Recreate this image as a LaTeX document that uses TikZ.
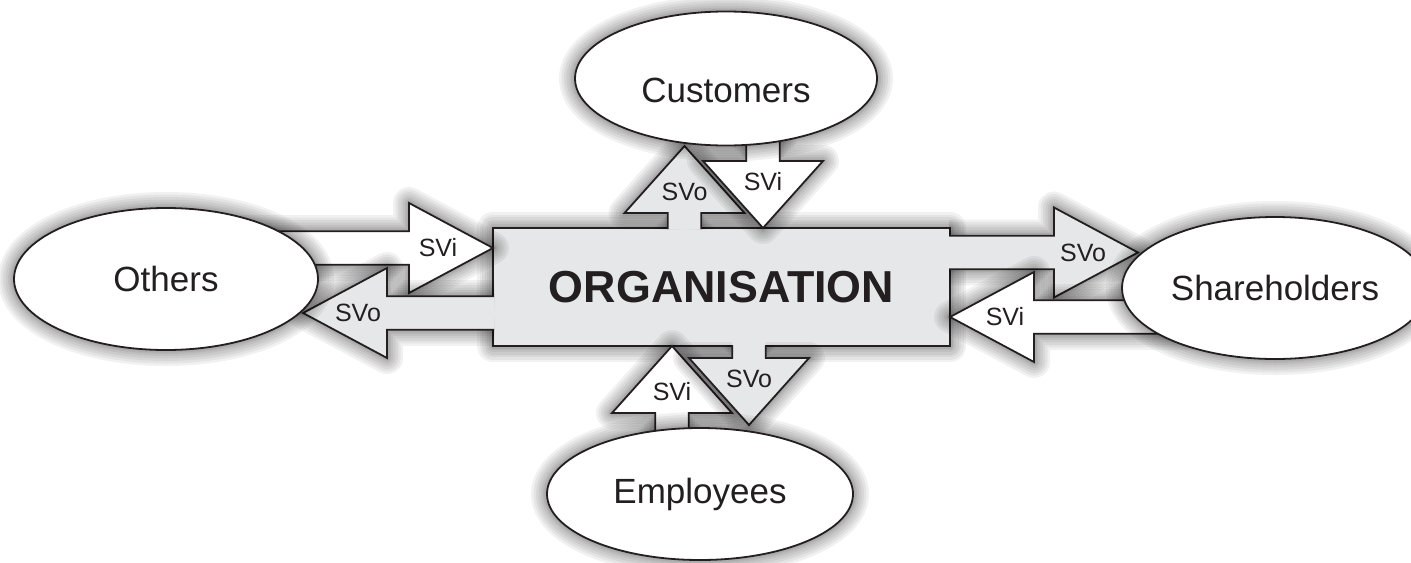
\documentclass[tikz,border=0pt]{standalone}
\usepackage{fontspec}
\setmainfont{Liberation Sans}
\usetikzlibrary{calc,shapes.geometric}

\definecolor{orggray}{RGB}{230,231,232}
\definecolor{ink}{RGB}{35,31,32}

% half width of every shaft (pt)
\def\shafthalf{8.4}

% block arrow from #2 to its tip #3, label node #4 with text #5
\newcommand\valuearrow[5]{%
  \filldraw[#1] let \p1=(#2), \p2=(#3),
      \n1={veclen(\x2-\x1,\y2-\y1)}, \n2={(\x2-\x1)/\n1}, \n3={(\y2-\y1)/\n1},
      \p3=({\x2-\headlen*\n2},{\y2-\headlen*\n3}) in
    ({\x1-\shafthalf*\n3},{\y1+\shafthalf*\n2}) -- ({\x3-\shafthalf*\n3},{\y3+\shafthalf*\n2})
    -- ({\x3-\headhalf*\n3},{\y3+\headhalf*\n2}) -- (\p2)
    -- ({\x3+\headhalf*\n3},{\y3-\headhalf*\n2}) -- ({\x3+\shafthalf*\n3},{\y3-\shafthalf*\n2})
    -- ({\x1+\shafthalf*\n3},{\y1-\shafthalf*\n2});
  \node[tag] (#4) at ($(#3)!\tagdist!(#2)$) {#5};
}

\tikzset{
  halo/.style={draw=black,fill=none,draw opacity=0.055,line join=round,line cap=butt,line width=#1},
  soft/.style={preaction={halo=16pt},preaction={halo=13.5pt},preaction={halo=11pt},
    preaction={halo=8.5pt},preaction={halo=6pt},preaction={halo=4pt},preaction={halo=2.5pt}},
  org/.style={draw=ink,line width=0.9pt,fill=orggray,soft,minimum width=228.5pt,minimum height=59pt,
    inner sep=0pt,outer sep=0pt,text=ink,font=\fontsize{22.4}{26}\selectfont\bfseries},
  oval/.style={ellipse,draw=ink,line width=0.9pt,fill=white,soft,inner sep=0pt,outer sep=0pt,
    text=ink,font=\fontsize{17.5}{20}\selectfont},
  ovaltext/.style={inner sep=0pt,text=ink,font=\fontsize{17.5}{20}\selectfont},
  svo/.style={draw=ink,line width=0.9pt,fill=orggray,line join=miter,soft},
  svi/.style={draw=ink,line width=0.9pt,fill=white,line join=miter,soft},
  tag/.style={inner sep=0pt,text=ink,font=\fontsize{12.5}{14}\selectfont}
}

\begin{document}
\begin{tikzpicture}[x=0.5pt,y=0.5pt,yscale=-1]
\useasboundingbox (0,0) rectangle (1411,562);

% Shape: Rectangle
\node[org] (org) at (721.5,287) {ORGANISATION};

% free ends of the arrows
\coordinate (oth-in) at (240,248);
\coordinate (oth-out) at (303,313);
\coordinate (sha-out) at (1138,252.5);
\coordinate (sha-in) at (1200,317);
\coordinate (cus-out) at (684.5,146);
\coordinate (cus-in) at (763,110);
\coordinate (emp-in) at (672,480);
\coordinate (emp-out) at (749,425);

% ends on the organisation
\coordinate (org-oi) at (org.west |- oth-in);
\coordinate (org-oo) at ($(org.west |- oth-out)+(1,0)$);
\coordinate (org-so) at ($(org.east |- sha-out)+(-1,0)$);
\coordinate (org-si) at (org.east |- sha-in);
\coordinate (org-co) at ($(org.north -| cus-out)+(0,1)$);
\coordinate (org-ci) at (org.north -| cus-in);
\coordinate (org-ei) at (org.south -| emp-in);
\coordinate (org-eo) at ($(org.south -| emp-out)+(0,-1)$);

% Block arrows: sideways
\def\headlen{42}\def\headhalf{22.5}\def\tagdist{27.5pt}
\valuearrow{svi}{oth-in}{org-oi}{oth-svi}{SVi}
\valuearrow{svo}{org-oo}{oth-out}{oth-svo}{SVo}
\valuearrow{svo}{org-so}{sha-out}{sha-svo}{SVo}
\valuearrow{svi}{sha-in}{org-si}{sha-svi}{SVi}

% Block arrows: upright
\def\headlen{33.5}\def\headhalf{30}\def\tagdist{23pt}
\valuearrow{svo}{org-co}{cus-out}{cus-svo}{SVo}
\valuearrow{svi}{cus-in}{org-ci}{cus-svi}{SVi}
\valuearrow{svi}{emp-in}{org-ei}{emp-svi}{SVi}
\valuearrow{svo}{org-eo}{emp-out}{emp-svo}{SVo}

% Shape: Ellipses
\node[oval,minimum width=152pt,minimum height=71pt] (others) at (166,279) {Others};
\node[oval,minimum width=151pt,minimum height=67pt] (customers) at (726,78.5) {};
\node[ovaltext] (customers-txt) at ($(customers.center)+(0,12)$) {Customers};
\node[oval,minimum width=153pt,minimum height=66pt] (employees) at (700,494) {Employees};
\node[oval,minimum width=153pt,minimum height=71pt] (shareholders) at (1275,288) {Shareholders};

\end{tikzpicture}
\end{document}
